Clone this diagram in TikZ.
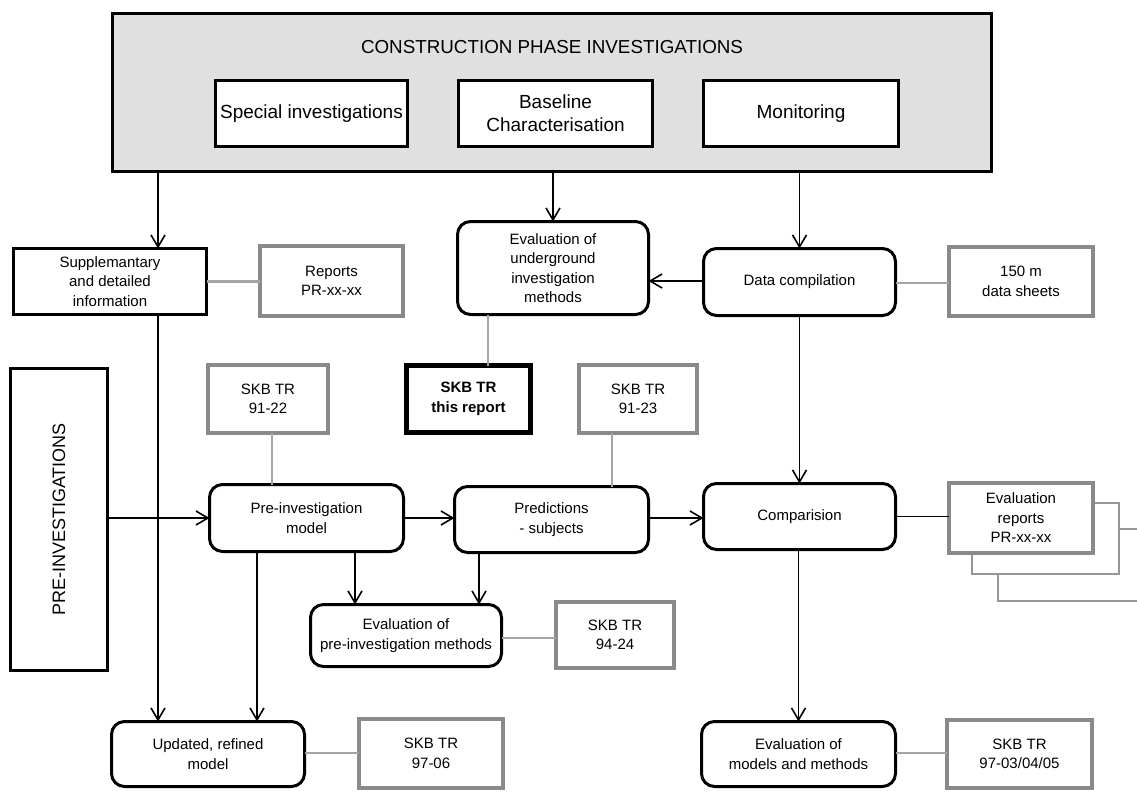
\documentclass[tikz,border=0pt]{standalone}
\usepackage{fontspec}
\setmainfont{Liberation Sans}
\usetikzlibrary{arrows.meta,calc}
\definecolor{panelgrey}{RGB}{224,224,224}
\definecolor{refedge}{RGB}{138,138,138}
\definecolor{reflink}{RGB}{165,165,165}
\definecolor{stackline}{RGB}{150,150,150}
\begin{document}
\begin{tikzpicture}[x=1pt,y=-1pt,
  every node/.style={inner sep=0pt, outer sep=0pt, align=center},
  small/.style={font=\fontsize{15}{19.5}\selectfont},
  big/.style={font=\fontsize{19}{23}\selectfont},
  plainbox/.style={draw=black, line width=3pt, fill=white, big},
  infobox/.style={draw=black, line width=3pt, fill=white, small},
  stepround/.style={draw=black, line width=3pt, fill=white, rounded corners=13pt, small},
  refbox/.style={draw=refedge, line width=4.5pt, fill=white, small},
  stackbox/.style={draw=stackline, line width=1.5pt, fill=white},
  arr/.style={line width=1.6pt, -{Straight Barb[length=12pt,width=14pt,line width=1.6pt]}},
  link/.style={line width=1.6pt},
  reflinkline/.style={draw=reflink, line width=2.5pt},
]
\useasboundingbox (0,0) rectangle (1137,792);

% construction phase panel
\node[draw=black, line width=3pt, fill=panelgrey, minimum width=879pt, minimum height=158pt] (grey) at (552,92.5) {};
\node[font=\fontsize{18.8}{23}\selectfont] (title) at (552,47) {CONSTRUCTION PHASE INVESTIGATIONS};
\node[plainbox, minimum width=192pt, minimum height=66pt] (spec) at (311.5,113.5) {Special investigations};
\node[plainbox, minimum width=194pt, minimum height=66pt] (base) at (555.5,113.5) {Baseline\\Characterisation};
\node[plainbox, minimum width=195pt, minimum height=66pt] (moni) at (801,113.5) {Monitoring};

% second row
\node[infobox, minimum width=193pt, minimum height=66pt] (supp) at (110,281.5) {Supplemantary\\and detailed\\information};
\node[refbox, minimum width=143pt, minimum height=70pt] (rep) at (331.5,281) {Reports\\PR-xx-xx};
\node[stepround, minimum width=191pt, minimum height=93pt] (evu) at (553,268) {Evaluation of\\underground\\investigation\\methods};
\node[stepround, minimum width=192pt, minimum height=67pt] (dat) at (799.5,282) {Data compilation};
\node[refbox, minimum width=144pt, minimum height=69pt] (m150) at (1021,281.5) {150 m\\data sheets};

% pre-investigations side bar
\node[draw=black, line width=3pt, fill=white, minimum width=302pt, minimum height=97pt, rotate=90,
      font=\fontsize{18}{22}\selectfont] (pre) at (59,519.5) {PRE-INVESTIGATIONS};

% report boxes above the model row
\node[refbox, minimum width=120pt, minimum height=68pt] (t22) at (268,399) {SKB TR\\91-22};
\node[draw=black, line width=5pt, fill=white, minimum width=124pt, minimum height=67pt,
      font=\fontsize{15}{19.5}\selectfont\bfseries] (trep) at (468.5,399) {SKB TR\\this report};
\node[refbox, minimum width=118pt, minimum height=68pt] (t23) at (638,399) {SKB TR\\91-23};

% model row
\node[stepround, minimum width=194pt, minimum height=67pt] (pim) at (306.5,518) {Pre-investigation\\model};
\node[stepround, minimum width=194pt, minimum height=66pt] (prd) at (551.5,519.5) {Predictions\\- subjects};
\node[stepround, minimum width=192pt, minimum height=66pt] (cmp) at (799.5,516.5) {Comparision};

% stacked evaluation reports
\node[stackbox, minimum width=160pt, minimum height=72pt] (er3) at (1078,565) {};
\node[stackbox, minimum width=147pt, minimum height=71pt] (er2) at (1045.5,538.5) {};
\node[refbox, minimum width=144pt, minimum height=70pt] (er) at (1021,518) {Evaluation\\reports\\PR-xx-xx};

% evaluation of pre-investigation methods
\node[stepround, minimum width=191pt, minimum height=62pt] (epi) at (406,635.5) {Evaluation of\\pre-investigation methods};
\node[refbox, minimum width=118pt, minimum height=66pt] (t94) at (615,635) {SKB TR\\94-24};

% bottom row
\node[stepround, minimum width=193pt, minimum height=65pt] (upd) at (208,754) {Updated, refined\\model};
\node[refbox, minimum width=144pt, minimum height=69pt] (t06) at (431,753.5) {SKB TR\\97-06};
\node[stepround, minimum width=194pt, minimum height=65pt] (emm) at (798.5,754) {Evaluation of\\models and methods};
\node[refbox, minimum width=145pt, minimum height=68pt] (t97) at (1019.5,754) {SKB TR\\97-03/04/05};

% helper x positions for off-centre connectors
\coordinate (xsup) at (158,0);
\coordinate (xevu) at (488,0);
\coordinate (x22) at (272,0);
\coordinate (x23) at (612,0);
\coordinate (xpa) at (355,0);
\coordinate (xpb) at (479,0);
\coordinate (xpc) at (257,0);
\coordinate (ydat) at (0,281);

% flow from the construction phase panel
\draw[arr] (grey.south -| xsup) -- (supp.north -| xsup);
\draw[arr] (grey.south -| evu.north) -- (evu.north);
\draw[arr] (grey.south -| dat.north) -- (dat.north);
\draw[arr] (dat.west |- ydat) -- (evu.east |- ydat);
\draw[arr] (supp.south -| xsup) -- (upd.north -| xsup);

% model row flow
\draw[arr] (pre.south |- pim.west) -- (pim.west);
\draw[arr] (pim.east) -- (pim.east -| prd.west);
\draw[arr] (prd.east |- pim.east) -- (cmp.west |- pim.east);
\draw[arr] (dat.south) -- (dat.south |- cmp.north);
\draw[link] (cmp.east) -- (cmp.east -| er.west);
\draw[arr] (pim.south -| xpa) -- (epi.north -| xpa);
\draw[arr] (prd.south -| xpb) -- (epi.north -| xpb);
\draw[arr] (pim.south -| xpc) -- (upd.north -| xpc);
\draw[arr] (cmp.south -| emm.north) -- (emm.north);

% links to report documents
\draw[reflinkline] (supp.east) -- (rep.west |- supp.east);
\draw[reflinkline] (dat.east |- ydat) ++(0,2) -- (m150.west |- 0,283);
\draw[reflinkline] (evu.south -| xevu) -- (trep.north -| xevu);
\draw[reflinkline] (t22.south -| x22) -- (pim.north -| x22);
\draw[reflinkline] (t23.south -| x23) -- (prd.north -| x23);
\draw[reflinkline] (epi.east |- 0,638) -- (t94.west |- 0,638);
\draw[reflinkline] (upd.east |- 0,753) -- (t06.west |- 0,753);
\draw[reflinkline] (emm.east |- 0,753) -- (t97.west |- 0,753);
\end{tikzpicture}
\end{document}
